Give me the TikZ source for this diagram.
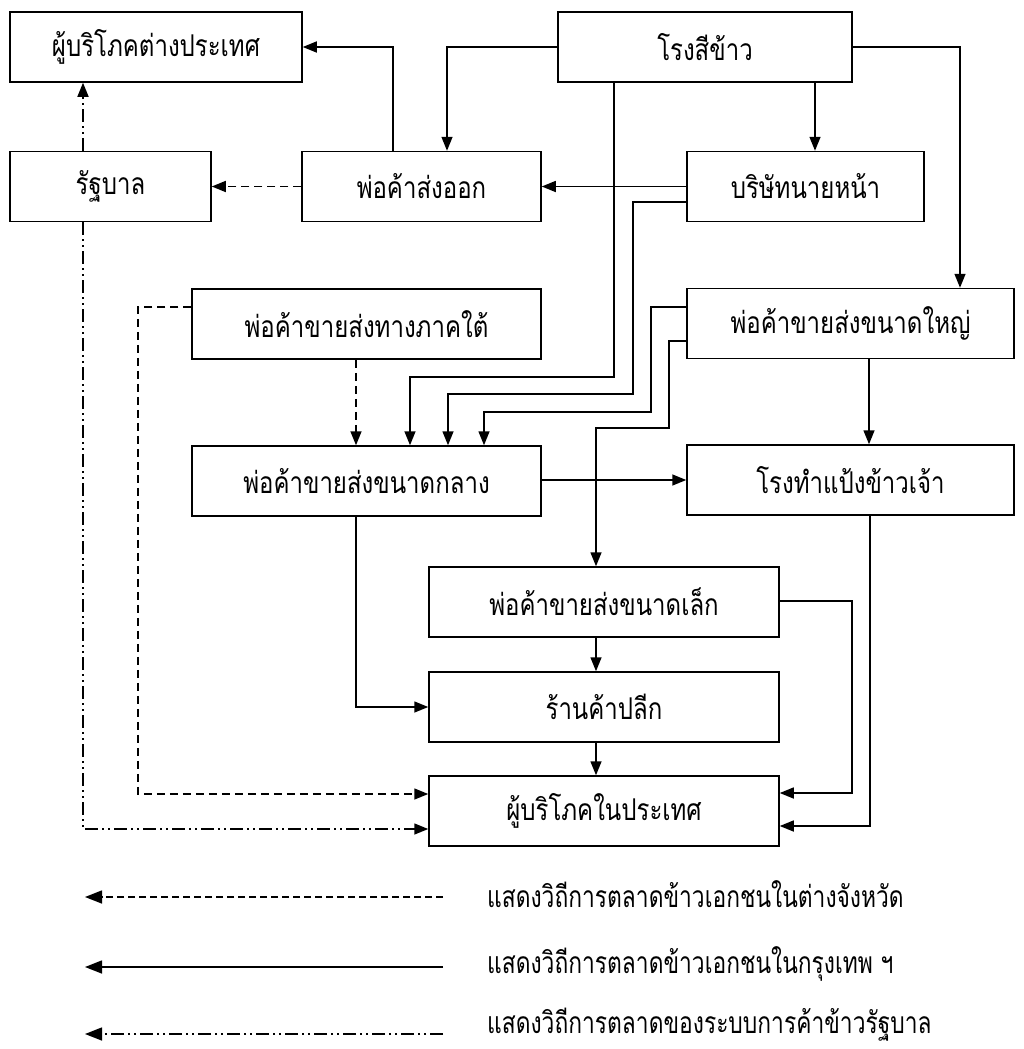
\documentclass[tikz,border=0pt]{standalone}
\usepackage{fontspec}
\newfontfamily\thaifont[Script=Thai,FakeStretch=0.8]{Loma}
\newfontfamily\thaikey[Script=Thai,FakeStretch=0.76]{Loma}
\usetikzlibrary{arrows.meta}
\begin{document}
\begin{tikzpicture}[x=1pt, y=-1pt,
  box/.style={draw, line width=1.5pt, rectangle, inner sep=0pt,
    font=\thaifont\fontsize{30}{34}\selectfont},
  wide/.style={minimum height=70pt},
  link/.style={line width=1.5pt, line join=miter,
    -{Triangle[length=14pt,width=11pt]}},
  privline/.style={link, dash pattern=on 8pt off 5pt},
  govline/.style={link, dash pattern=on 13pt off 4pt on 2pt off 4pt on 2pt off 4pt},
  keyarrow/.style={line width=1.5pt, -{Triangle[length=17pt,width=13pt]}},
  keytext/.style={anchor=west, inner sep=0pt, font=\thaikey\fontsize{30}{34}\selectfont}
]
\fill[white] (0,0) rectangle (1023,1049);
\useasboundingbox (0,0) rectangle (1023,1049);

% boxes
\node[box, wide, minimum width=292pt] (abroad)   at (156,47)    {ผู้บริโภคต่างประเทศ};
\node[box, wide, minimum width=294pt] (mill)     at (705,47)    {โรงสีข้าว};
\node[box, wide, minimum width=201pt] (gov)      at (110.5,186.5) {รัฐบาล};
\node[box, wide, minimum width=239pt] (export)   at (421.5,186.5) {พ่อค้าส่งออก};
\node[box, wide, minimum width=237pt] (broker)   at (805.5,186.5) {บริษัทนายหน้า};
\node[box, wide, minimum width=349pt] (south)    at (366.5,324) {พ่อค้าขายส่งทางภาคใต้};
\node[box, wide, minimum width=327pt] (large)    at (850.5,323.5) {พ่อค้าขายส่งขนาดใหญ่};
\node[box, wide, minimum width=349pt] (medium)   at (366.5,481) {พ่อค้าขายส่งขนาดกลาง};
\node[box, wide, minimum width=327pt] (flour)    at (850.5,480) {โรงทำแป้งข้าวเจ้า};
\node[box, wide, minimum width=350pt] (small)    at (604,602)   {พ่อค้าขายส่งขนาดเล็ก};
\node[box, wide, minimum width=350pt] (retail)   at (604,707)   {ร้านค้าปลีก};
\node[box, wide, minimum width=350pt] (domestic) at (604,811)   {ผู้บริโภคในประเทศ};

% private trade in Bangkok
\draw[link] (export.north -| 393,0) |- (abroad.east);
\draw[link] (mill.west) -| (export.north -| 447,0);
\draw[link] (mill.south -| 815,0) -- (broker.north -| 815,0);
\draw[link] (mill.east) -| (large.north -| 960,0);
\draw[link] (broker.west) -- (export.east);
\draw[link] (mill.south -| 614,0) |- (410,377) -- (medium.north -| 410,0);
\draw[link] (broker.west |- 0,202) -| (633,394) -| (medium.north -| 448,0);
\draw[link] (large.west |- 0,307) -| (651,412) -| (medium.north -| 484,0);
\draw[link] (large.west |- 0,341) -| (669,428) -| (small.north -| 596,0);
\draw[link] (large.south -| 869,0) -- (flour.north -| 869,0);
\draw[link] (medium.east |- 0,480) -- (flour.west |- 0,480);
\draw[link] (medium.south -| 356,0) |- (retail.west);
\draw[link] (small.south -| 596,0) -- (retail.north -| 596,0);
\draw[link] (retail.south -| 596,0) -- (domestic.north -| 596,0);
\draw[link] (small.east |- 0,601) -| (852,793) -- (domestic.east |- 0,793);
\draw[link] (flour.south -| 870,0) |- (domestic.east |- 0,826);

% private trade in the provinces
\draw[privline] (export.west) -- (gov.east);
\draw[privline] (south.south -| 356,0) -- (medium.north -| 356,0);
\draw[privline] (south.west |- 0,307) -| (138,794) -- (domestic.west |- 0,794);

% government rice trade
\draw[govline] (gov.north -| 83,0) -- (abroad.south -| 83,0);
\draw[govline] (gov.south -| 83,0) |- (domestic.west |- 0,829);

% key
\coordinate (k1a) at (443,897);  \coordinate (k1b) at (85,897);
\coordinate (k2a) at (443,967);  \coordinate (k2b) at (85,967);
\coordinate (k3a) at (443,1034); \coordinate (k3b) at (85,1034);
\draw[keyarrow, dash pattern=on 7pt off 4pt] (k1a) -- (k1b);
\draw[keyarrow] (k2a) -- (k2b);
\draw[keyarrow, dash pattern=on 13pt off 4pt on 2pt off 4pt on 2pt off 4pt] (k3a) -- (k3b);
\node[keytext] (key1) at (487,894)  {แสดงวิถีการตลาดข้าวเอกชนในต่างจังหวัด};
\node[keytext] (key2) at (487,964)  {แสดงวิถีการตลาดข้าวเอกชนในกรุงเทพ ฯ};
\node[keytext] (key3) at (487,1025) {แสดงวิถีการตลาดของระบบการค้าข้าวรัฐบาล};
\end{tikzpicture}
\end{document}
